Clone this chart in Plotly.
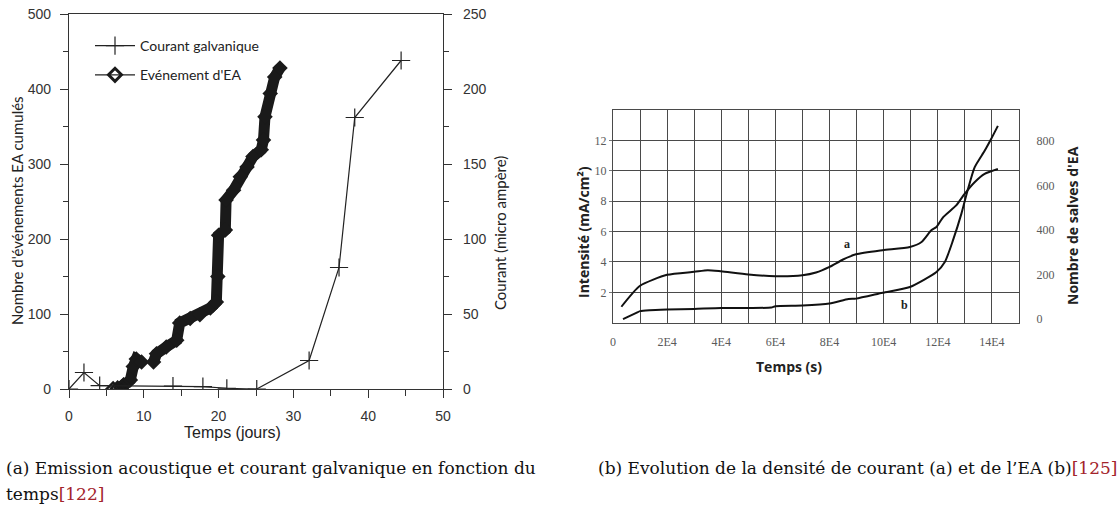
import plotly.graph_objects as go

# ---------------- data: left chart (a) ----------------
cur_days = [0, 2, 4.1, 13.9, 17.9, 21.1, 25.1, 32.1, 36.1, 38.2, 44.4]
cur_ua = [0, 11, 2.2, 2.0, 1.6, 0.5, 0, 19, 81, 181, 219]

ea_days = [5.9, 6.5, 7.0, 7.3, 8.2, 8.6, 9.0, 9.7, 11.3, 11.7, 13.0, 14.4, 14.8, 16.2,
           17.5, 18.9, 19.7, 19.9, 20.0, 20.9, 21.0, 22.0, 22.9, 23.8, 24.6, 25.7,
           26.0, 26.2, 26.9, 27.5, 28.2]
ea_count = [0, 1, 2, 5, 12, 30, 40, 36, 36, 47, 56, 65, 88, 94,
            99, 108, 116, 150, 205, 212, 252, 265, 283, 296, 310, 319,
            332, 363, 394, 416, 428]

# ---------------- data: right chart (b) ----------------
t_a = [3100, 10000, 20000, 30000, 35000, 40000, 50000, 60000, 70000, 75000, 80000, 85000,
       89800, 99600, 109700, 114000, 117600, 119500, 122000, 126800, 129900, 133600,
       137300, 142200]
dens_a = [1.05, 2.43, 3.15, 3.35, 3.46, 3.38, 3.17, 3.06, 3.12, 3.3, 3.67, 4.16,
          4.5, 4.77, 4.98, 5.31, 6.08, 6.3, 6.95, 7.72, 8.48, 9.25,
          9.8, 10.12]

t_b = [3700, 8600, 10000, 13500, 20000, 30000, 40000, 50000, 58500, 60000, 70000, 80000,
       87000, 89800, 99600, 109700, 119500, 122600, 125600, 128700, 131000, 133600,
       137300, 139700, 142200]
salves_b = [0, 28, 36, 40, 43, 46, 50, 50, 52, 58, 61, 70,
            90, 92, 118, 144, 211, 256, 353, 472, 577, 681,
            755, 808, 867]

x3_ticks = [0, 20000, 40000, 60000, 80000, 100000, 120000, 140000]
x3_text = ["0", "2E4", "4E4", "6E4", "8E4", "10E4", "12E4", "14E4"]
x3_minor = [10000, 30000, 50000, 70000, 90000, 110000, 130000, 150000]
y3_ticks = [2, 4, 6, 8, 10, 12]
y4_ticks = [0, 200, 400, 600, 800]

W, H = 1119, 508
def px(x):
    return x / W
def py(y):
    return 1 - y / H

fig = go.Figure()

# current (galvanic) - right axis of chart (a)
fig.add_trace(go.Scatter(
    x=cur_days, y=cur_ua, xaxis="x", yaxis="y2", mode="lines+markers",
    name="Courant galvanique", legendgroup="g1",
    line=dict(color="#222", width=1.2),
    marker=dict(symbol="cross-thin", size=13, line=dict(color="#222", width=1.2)),
))

# EA: thin connecting line
fig.add_trace(go.Scatter(
    x=ea_days, y=ea_count, xaxis="x", yaxis="y", mode="lines",
    showlegend=False, line=dict(color="#222", width=1.2), hoverinfo="skip",
))
# EA: thick clusters
fig.add_trace(go.Scatter(
    x=ea_days[3:8], y=ea_count[3:8], xaxis="x", yaxis="y", mode="lines+markers",
    showlegend=False, line=dict(color="#1a1a1a", width=11),
    marker=dict(symbol="diamond", size=12, color="#1a1a1a"),
))
fig.add_trace(go.Scatter(
    x=ea_days[8:], y=ea_count[8:], xaxis="x", yaxis="y", mode="lines+markers",
    showlegend=False, line=dict(color="#1a1a1a", width=11),
    marker=dict(symbol="diamond", size=12, color="#1a1a1a"),
))
# EA: open diamonds at the start
fig.add_trace(go.Scatter(
    x=ea_days[:4], y=ea_count[:4], xaxis="x", yaxis="y", mode="markers",
    showlegend=False,
    marker=dict(symbol="diamond-open", size=10, color="#1a1a1a", line=dict(width=2.5)),
))
# legend entry for EA
fig.add_trace(go.Scatter(
    x=[None], y=[None], xaxis="x", yaxis="y", mode="lines+markers",
    name="Evénement d'EA", legendgroup="g2",
    line=dict(color="#222", width=1.2),
    marker=dict(symbol="diamond-open", size=10, color="#1a1a1a", line=dict(width=3)),
))

# chart (b)
fig.add_trace(go.Scatter(
    x=t_a, y=dens_a, xaxis="x3", yaxis="y3", mode="lines", showlegend=False,
    line=dict(color="#111", width=2, shape="spline", smoothing=0.6),
))
fig.add_trace(go.Scatter(
    x=t_b, y=salves_b, xaxis="x3", yaxis="y4", mode="lines", showlegend=False,
    line=dict(color="#111", width=2, shape="spline", smoothing=0.6),
))

axfont = dict(family="Liberation Sans, Arial", size=14, color="#333")
serif_tick = dict(family="Liberation Serif, Times New Roman", size=12, color="#5a5a5a")
gridc = "#4a4a4a"

fig.update_layout(
    width=W, height=H,
    margin=dict(l=0, r=0, t=0, b=0, autoexpand=False),
    paper_bgcolor="white", plot_bgcolor="rgba(0,0,0,0)",
    showlegend=True,
    legend=dict(
        x=px(90), y=py(30), xanchor="left", yanchor="top",
        bgcolor="rgba(0,0,0,0)", font=dict(family="Lato", size=14, color="#222"),
        itemwidth=40, tracegroupgap=8,
    ),
    xaxis=dict(
        domain=[px(69), px(443)], anchor="y", range=[0, 50],
        tickvals=[0, 10, 20, 30, 40, 50], ticks="outside", ticklen=8, tickcolor="#333",
        ticklabelstandoff=6,
        minor=dict(tickvals=[5, 15, 25, 35, 45], ticks="outside", ticklen=6, tickcolor="#333"),
        showline=True, linecolor="#333", linewidth=1.2, mirror=True,
        showgrid=False, zeroline=False, tickfont=axfont,
    ),
    yaxis=dict(
        domain=[py(389), py(14)], anchor="x", range=[0, 500],
        tickvals=[0, 100, 200, 300, 400, 500], ticks="outside", ticklen=8, tickcolor="#333",
        ticklabelstandoff=6,
        minor=dict(tickvals=[50, 150, 250, 350, 450], ticks="outside", ticklen=5, tickcolor="#333"),
        showline=True, linecolor="#333", linewidth=1.2,
        showgrid=False, zeroline=False, tickfont=axfont,
    ),
    yaxis2=dict(
        overlaying="y", side="right", anchor="x", range=[0, 250],
        tickvals=[0, 50, 100, 150, 200, 250], ticks="outside", ticklen=8, tickcolor="#333",
        ticklabelstandoff=8,
        minor=dict(tickvals=[25, 75, 125, 175, 225], ticks="outside", ticklen=5, tickcolor="#333"),
        showline=True, linecolor="#333", linewidth=1.2,
        showgrid=False, zeroline=False, tickfont=axfont,
    ),
    xaxis3=dict(
        domain=[px(613), px(1019)], anchor="y3", range=[0, 150000],
        tickvals=x3_ticks, ticktext=x3_text,
        ticks="outside", ticklen=8, tickcolor="rgba(0,0,0,0)",
        showgrid=True, gridcolor=gridc, gridwidth=1.4,
        minor=dict(tickvals=x3_minor, showgrid=True, gridcolor=gridc, gridwidth=1.4, ticks=""),
        showline=True, linecolor=gridc, linewidth=1.4, mirror=True,
        zeroline=False, tickfont=serif_tick,
    ),
    yaxis3=dict(
        domain=[py(322.7), py(110)], anchor="x3", range=[0, 14],
        tickvals=y3_ticks, ticks="outside", ticklen=3, tickcolor="#777",
        showgrid=True, gridcolor=gridc, gridwidth=1.4,
        showline=True, linecolor=gridc, linewidth=1.4, mirror=True,
        zeroline=False, tickfont=serif_tick,
    ),
    yaxis4=dict(
        overlaying="y3", side="right", anchor="x3", range=[-16, 938],
        tickvals=y4_ticks, ticks="outside", ticklen=14, tickcolor="rgba(0,0,0,0)",
        showgrid=False, showline=False, zeroline=False, tickfont=serif_tick,
    ),
)

ann = []
def add_text(x, y, text, font, angle=0, xanchor="center"):
    ann.append(dict(x=px(x), y=py(y), xref="paper", yref="paper", text=text,
                    textangle=angle, showarrow=False, font=font,
                    xanchor=xanchor, yanchor="middle"))

lato = dict(family="Lato", size=15, color="#222")
osb = dict(family="Open Sans", size=14, color="#222")
# chart (a) titles
add_text(17, 211, "Nombre d'événements EA cumulés", lato, -90)
add_text(500, 233, "Courant (micro ampère)", lato, -90)
add_text(232, 432, "Temps (jours)", dict(family="Liberation Sans, Arial", size=16, color="#222"))
# chart (b) titles
add_text(583, 232, "<b>Intensité (mA/cm²)</b>", osb, -90)
add_text(1072, 226, "<b>Nombre de salves d'EA</b>", osb, -90)
add_text(789, 366, "<b>Temps (s)</b>", osb)
ann.append(dict(x=86300, y=5.15, xref="x3", yref="y3", text="<b>a</b>",
                showarrow=False, font=dict(family="Liberation Serif", size=12, color="#222")))
ann.append(dict(x=107600, y=1.15, xref="x3", yref="y3", text="<b>b</b>",
                showarrow=False, font=dict(family="Liberation Serif", size=12, color="#222")))
# captions
capfont = dict(family="DejaVu Serif", size=17, color="#111")
add_text(4, 468, "(a) Emission acoustique et courant galvanique en fonction du", capfont, xanchor="left")
add_text(4, 494, "temps<span style='color:#a3242b'>[122]</span>", capfont, xanchor="left")
add_text(596, 468, "(b) Evolution de la densité de courant (a) et de l’EA (b)<span style='color:#a3242b'>[125]</span>",
         capfont, xanchor="left")
fig.update_layout(annotations=ann)

fig.write_html("out.html", config={"displayModeBar": False},
               post_script="document.body.style.margin='0';document.body.style.overflow='hidden';")
